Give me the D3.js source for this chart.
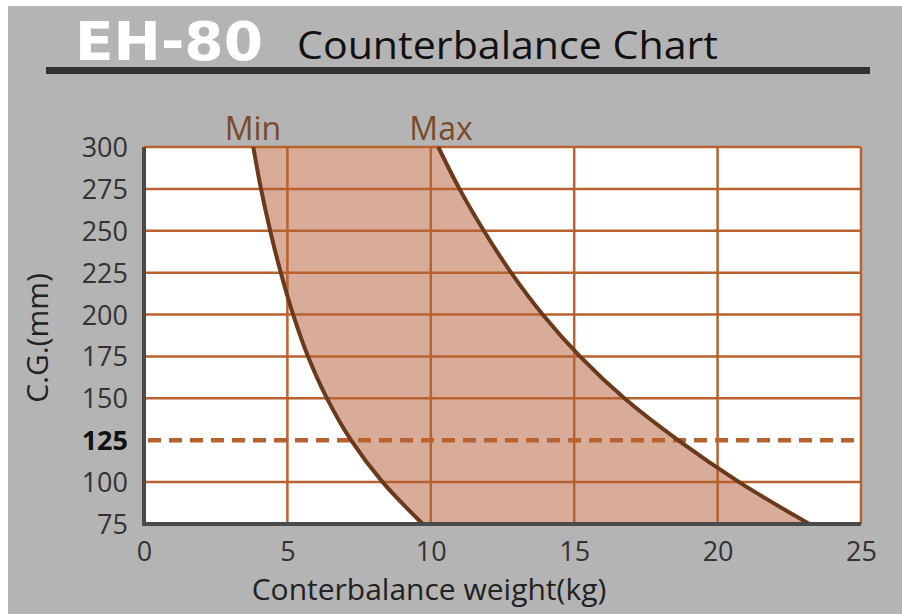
<!DOCTYPE html>
<html>
<head>
<meta charset="utf-8">
<script src="https://cdn.jsdelivr.net/npm/d3@7"></script>
<style>
  html, body { margin: 0; padding: 0; background: #fff; }
  svg { display: block; }
</style>
</head>
<body>
<div id="chart"></div>
<script>
"use strict";
// values
var cgTicks = [75, 100, 125, 150, 175, 200, 225, 250, 275, 300];
var weightTicks = [0, 5, 10, 15, 20, 25];
var cgPoints = [300, 275, 250, 225, 200, 175, 150, 125, 100, 75];
var minWeight = [3.81, 4.08, 4.4, 4.77, 5.2, 5.72, 6.38, 7.22, 8.32, 9.72];
var maxWeight = [10.26, 11.0, 11.85, 12.8, 13.9, 15.2, 16.75, 18.62, 20.75, 23.2];
var refCG = 125;

var w = 902,
  h = 614;

var font = "'Open Sans', 'Noto Sans', sans-serif";

var svg = d3
  .select("#chart")
  .append("svg")
  .attr("width", w)
  .attr("height", h);

//gray card with a thin white margin top/left
svg.append("rect").attr("width", w).attr("height", h).attr("fill", "#fff");
svg
  .append("rect")
  .attr("x", 8)
  .attr("y", 6)
  .attr("width", w - 8)
  .attr("height", h - 6)
  .attr("fill", "#b4b4b4");

//title
svg
  .append("text")
  .attr("x", 75)
  .attr("y", 60)
  .attr("font-family", "'DejaVu Sans Condensed', 'Liberation Sans Narrow', sans-serif")
  .attr("font-weight", "bold")
  .attr("font-size", 54)
  .attr("fill", "#fff")
  .attr("textLength", 188)
  .attr("lengthAdjust", "spacingAndGlyphs")
  .text("EH-80");

svg
  .append("text")
  .attr("x", 297)
  .attr("y", 59)
  .attr("font-family", font)
  .attr("font-size", 38)
  .attr("fill", "#111")
  .attr("textLength", 421)
  .attr("lengthAdjust", "spacingAndGlyphs")
  .text("Counterbalance Chart");

svg
  .append("rect")
  .attr("x", 46)
  .attr("y", 67)
  .attr("width", 824)
  .attr("height", 7)
  .attr("fill", "#333");

var x = d3.scaleLinear().domain([0, 25]).range([144, 861]);
var y = d3.scaleLinear().domain([75, 300]).range([524, 147]);

var grid = "#b8622f",
  curveCol = "#6b3a1c";

//plot background
svg
  .append("rect")
  .attr("x", x(0))
  .attr("y", y(300))
  .attr("width", x(25) - x(0))
  .attr("height", y(75) - y(300))
  .attr("fill", "#fff");

//band between min and max
var pts = cgPoints.map(function(c, i) {
  return { cg: c, lo: minWeight[i], hi: maxWeight[i] };
});

var smooth = d3.curveCatmullRom.alpha(0.5);

var area = d3
  .area()
  .curve(smooth)
  .y(function(d) {
    return y(d.cg);
  })
  .x0(function(d) {
    return x(d.lo);
  })
  .x1(function(d) {
    return x(d.hi);
  });

svg
  .append("path")
  .datum(pts)
  .attr("d", area)
  .attr("fill", "#d8ac98");

//grid
svg
  .append("g")
  .selectAll("line")
  .data(cgTicks.filter(function(c) {
    return c !== refCG && c !== 75;
  }))
  .enter()
  .append("line")
  .attr("x1", x(0))
  .attr("x2", x(25))
  .attr("y1", function(d) {
    return y(d);
  })
  .attr("y2", function(d) {
    return y(d);
  })
  .attr("stroke", grid)
  .attr("stroke-width", 2.5);

svg
  .append("g")
  .selectAll("line")
  .data(weightTicks.filter(function(v) {
    return v > 0;
  }))
  .enter()
  .append("line")
  .attr("x1", function(d) {
    return x(d);
  })
  .attr("x2", function(d) {
    return x(d);
  })
  .attr("y1", y(300))
  .attr("y2", y(75))
  .attr("stroke", grid)
  .attr("stroke-width", 2.5);

//reference line at 125
svg
  .append("line")
  .attr("x1", x(0) + 4)
  .attr("x2", x(25))
  .attr("y1", y(refCG))
  .attr("y2", y(refCG))
  .attr("stroke", grid)
  .attr("stroke-width", 4.5)
  .attr("stroke-dasharray", "13,8");

//curves
var lineMin = d3
  .line()
  .curve(smooth)
  .y(function(d) {
    return y(d.cg);
  })
  .x(function(d) {
    return x(d.lo);
  });
var lineMax = d3
  .line()
  .curve(smooth)
  .y(function(d) {
    return y(d.cg);
  })
  .x(function(d) {
    return x(d.hi);
  });

[lineMin, lineMax].forEach(function(l) {
  svg
    .append("path")
    .datum(pts)
    .attr("d", l)
    .attr("fill", "none")
    .attr("stroke", curveCol)
    .attr("stroke-width", 4);
});

//axis frame: dark left/bottom
svg
  .append("path")
  .attr("d", "M" + x(0) + "," + y(300) + "V" + y(75) + "H" + x(25))
  .attr("fill", "none")
  .attr("stroke", "#4a4a4a")
  .attr("stroke-width", 4);

//tick labels
var yAxis = d3
  .axisLeft(y)
  .tickValues(cgTicks)
  .tickSize(0)
  .tickPadding(14);
var gy = svg
  .append("g")
  .attr("transform", "translate(" + (x(0) - 2) + ",0)")
  .call(yAxis);
gy.select(".domain").remove();
gy.selectAll("text")
  .attr("font-family", font)
  .attr("font-size", 27)
  .attr("dy", "0.35em")
  .attr("fill", function(d) {
    return d === refCG ? "#111" : "#333";
  })
  .attr("font-weight", function(d) {
    return d === refCG ? "bold" : "normal";
  });

var xAxis = d3
  .axisBottom(x)
  .tickValues(weightTicks)
  .tickSize(0)
  .tickPadding(18);
var gx = svg
  .append("g")
  .attr("transform", "translate(0," + y(75) + ")")
  .call(xAxis);
gx.select(".domain").remove();
gx.selectAll("text")
  .attr("font-family", font)
  .attr("font-size", 27)
  .attr("fill", "#333");

//axis titles
svg
  .append("text")
  .attr("x", 429)
  .attr("y", 600)
  .attr("text-anchor", "middle")
  .attr("font-family", font)
  .attr("font-size", 30)
  .attr("fill", "#222")
  .text("Conterbalance weight(kg)");

svg
  .append("text")
  .attr("transform", "translate(48,338) rotate(-90)")
  .attr("text-anchor", "middle")
  .attr("font-family", font)
  .attr("font-size", 30)
  .attr("fill", "#222")
  .text("C.G.(mm)");

//curve labels
svg
  .append("text")
  .attr("x", 253)
  .attr("y", 140)
  .attr("text-anchor", "middle")
  .attr("font-family", font)
  .attr("font-size", 32)
  .attr("fill", "#7a4a2a")
  .text("Min");

svg
  .append("text")
  .attr("x", 441)
  .attr("y", 140)
  .attr("text-anchor", "middle")
  .attr("font-family", font)
  .attr("font-size", 32)
  .attr("fill", "#7a4a2a")
  .text("Max");
</script>
</body>
</html>
